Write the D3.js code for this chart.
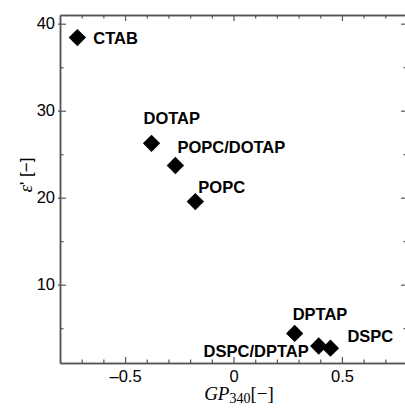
<!DOCTYPE html>
<html>
<head>
<meta charset="utf-8">
<script src="https://cdn.jsdelivr.net/npm/d3@7"></script>
<style>
  body { margin: 0; background: #fff; }
  svg { display: block; }
  .tick text { font-family: "Liberation Sans", Arial, sans-serif; font-size: 16.5px; fill: #000; }
  .lbl { font-family: "Liberation Sans", Arial, sans-serif; font-weight: bold; font-size: 16.5px; fill: #000; }
</style>
</head>
<body>
<div id="chart"></div>
<script>
// Samples: GP340 vs dielectric constant
const names = ['CTAB', 'DOTAP', 'POPC/DOTAP', 'POPC', 'DPTAP', 'DSPC/DPTAP', 'DSPC'];
const gp = [-0.72, -0.378, -0.268, -0.176, 0.282, 0.393, 0.447];
const eps = [38.4, 26.25, 23.7, 19.55, 4.4, 2.95, 2.7];

const xMajor = [-0.5, 0, 0.5];
const xMajorLabels = ['\u20130.5', '0', '0.5'];
const xMinor = [-0.7, -0.6, -0.4, -0.3, -0.2, -0.1, 0.1, 0.2, 0.3, 0.4, 0.6, 0.7];
const yMajor = [10, 20, 30, 40];
const yMinor = [5, 15, 25, 35];

// label offsets from the marker (px) and anchor
const labelPos = [
  { dx: 16, dy: 6.5, anchor: 'start' },
  { dx: -8, dy: -19, anchor: 'start' },
  { dx: 2, dy: -12.5, anchor: 'start' },
  { dx: 3, dy: -8.5, anchor: 'start' },
  { dx: -2, dy: -13.5, anchor: 'start' },
  { dx: -10, dy: 10.5, anchor: 'end' },
  { dx: 17, dy: -6.5, anchor: 'start' }
];

const W = 405, H = 419;
const margin = { top: 15, right: -2, bottom: 56, left: 60 };

const x = d3.scaleLinear().domain([-0.8, 0.8]).range([margin.left, W - margin.right]);
const y = d3.scaleLinear().domain([1, 41]).range([H - margin.bottom, margin.top]);

const svg = d3.select('#chart').append('svg')
  .attr('width', W)
  .attr('height', H);

const axisColor = '#555';
const x0 = x.range()[0], x1 = x.range()[1];
const y0 = y.range()[0], y1 = y.range()[1];

// bottom axis
const gB = svg.append('g').attr('transform', `translate(0,${y0})`);
gB.call(d3.axisBottom(x).tickValues(xMinor).tickSizeInner(-3.5).tickSizeOuter(0).tickFormat(''));
const gB2 = svg.append('g').attr('transform', `translate(0,${y0})`);
gB2.call(d3.axisBottom(x).tickValues(xMajor).tickSizeInner(-6).tickSizeOuter(0)
  .tickPadding(7).tickFormat((d, i) => xMajorLabels[i]));

// top axis
const gT = svg.append('g').attr('transform', `translate(0,${y1})`);
gT.call(d3.axisTop(x).tickValues(xMinor).tickSizeInner(-3.5).tickSizeOuter(0).tickFormat(''));
const gT2 = svg.append('g').attr('transform', `translate(0,${y1})`);
gT2.call(d3.axisTop(x).tickValues(xMajor).tickSizeInner(-6).tickSizeOuter(0).tickFormat(''));

// left axis
const gL = svg.append('g').attr('transform', `translate(${x0},0)`);
gL.call(d3.axisLeft(y).tickValues(yMinor).tickSizeInner(-3.5).tickSizeOuter(0).tickFormat(''));
const gL2 = svg.append('g').attr('transform', `translate(${x0},0)`);
gL2.call(d3.axisLeft(y).tickValues(yMajor).tickSizeInner(-6).tickSizeOuter(0)
  .tickPadding(5).tickFormat(d3.format('d')));
gL2.selectAll('.tick').append('line').attr('x1', 0).attr('x2', -2);

// right axis
const gR = svg.append('g').attr('transform', `translate(${x1},0)`);
gR.call(d3.axisRight(y).tickValues(yMinor).tickSizeInner(-3.5).tickSizeOuter(0).tickFormat(''));
const gR2 = svg.append('g').attr('transform', `translate(${x1},0)`);
gR2.call(d3.axisRight(y).tickValues(yMajor).tickSizeInner(-6).tickSizeOuter(0).tickFormat(''));

svg.selectAll('.domain').attr('stroke', axisColor).attr('stroke-width', 1.5);
svg.selectAll('.tick line').attr('stroke', axisColor).attr('stroke-width', 1.2);
gB2.selectAll('.tick text').attr('dy', '0.71em');

// markers
const pts = names.map((n, i) => ({ name: n, gp: gp[i], eps: eps[i], pos: labelPos[i] }));

svg.append('g').selectAll('path')
  .data(pts)
  .enter()
  .append('path')
  .attr('d', d3.symbol(d3.symbolSquare, 150))
  .attr('transform', d => `translate(${x(d.gp)},${y(d.eps)}) rotate(45)`)
  .attr('fill', '#000');

svg.append('g').selectAll('text')
  .data(pts)
  .enter()
  .append('text')
  .attr('class', 'lbl')
  .attr('x', d => x(d.gp) + d.pos.dx)
  .attr('y', d => y(d.eps) + d.pos.dy)
  .attr('text-anchor', d => d.pos.anchor)
  .text(d => d.name);

// x title: GP340[−]
const xt = svg.append('text')
  .attr('x', 239)
  .attr('y', 400)
  .attr('text-anchor', 'middle')
  .style('font-family', '"Liberation Serif", "Times New Roman", serif')
  .style('font-size', '19px');
xt.append('tspan').style('font-style', 'italic').text('GP');
xt.append('tspan').attr('dy', 3).style('font-size', '14px').text('340');
xt.append('tspan').attr('dy', -3).text('[\u2212]');

// y title: ε' [−]
const yt = svg.append('text')
  .attr('transform', 'translate(32,175) rotate(-90)')
  .attr('text-anchor', 'middle')
  .style('font-family', '"Liberation Serif", "Times New Roman", serif')
  .style('font-size', '19px');
yt.append('tspan').style('font-style', 'italic').text('\u03b5');
yt.append('tspan').style('font-family', '"Liberation Sans", Arial, sans-serif').style('font-size', '17px').text("' [\u2212]");
</script>
</body>
</html>
